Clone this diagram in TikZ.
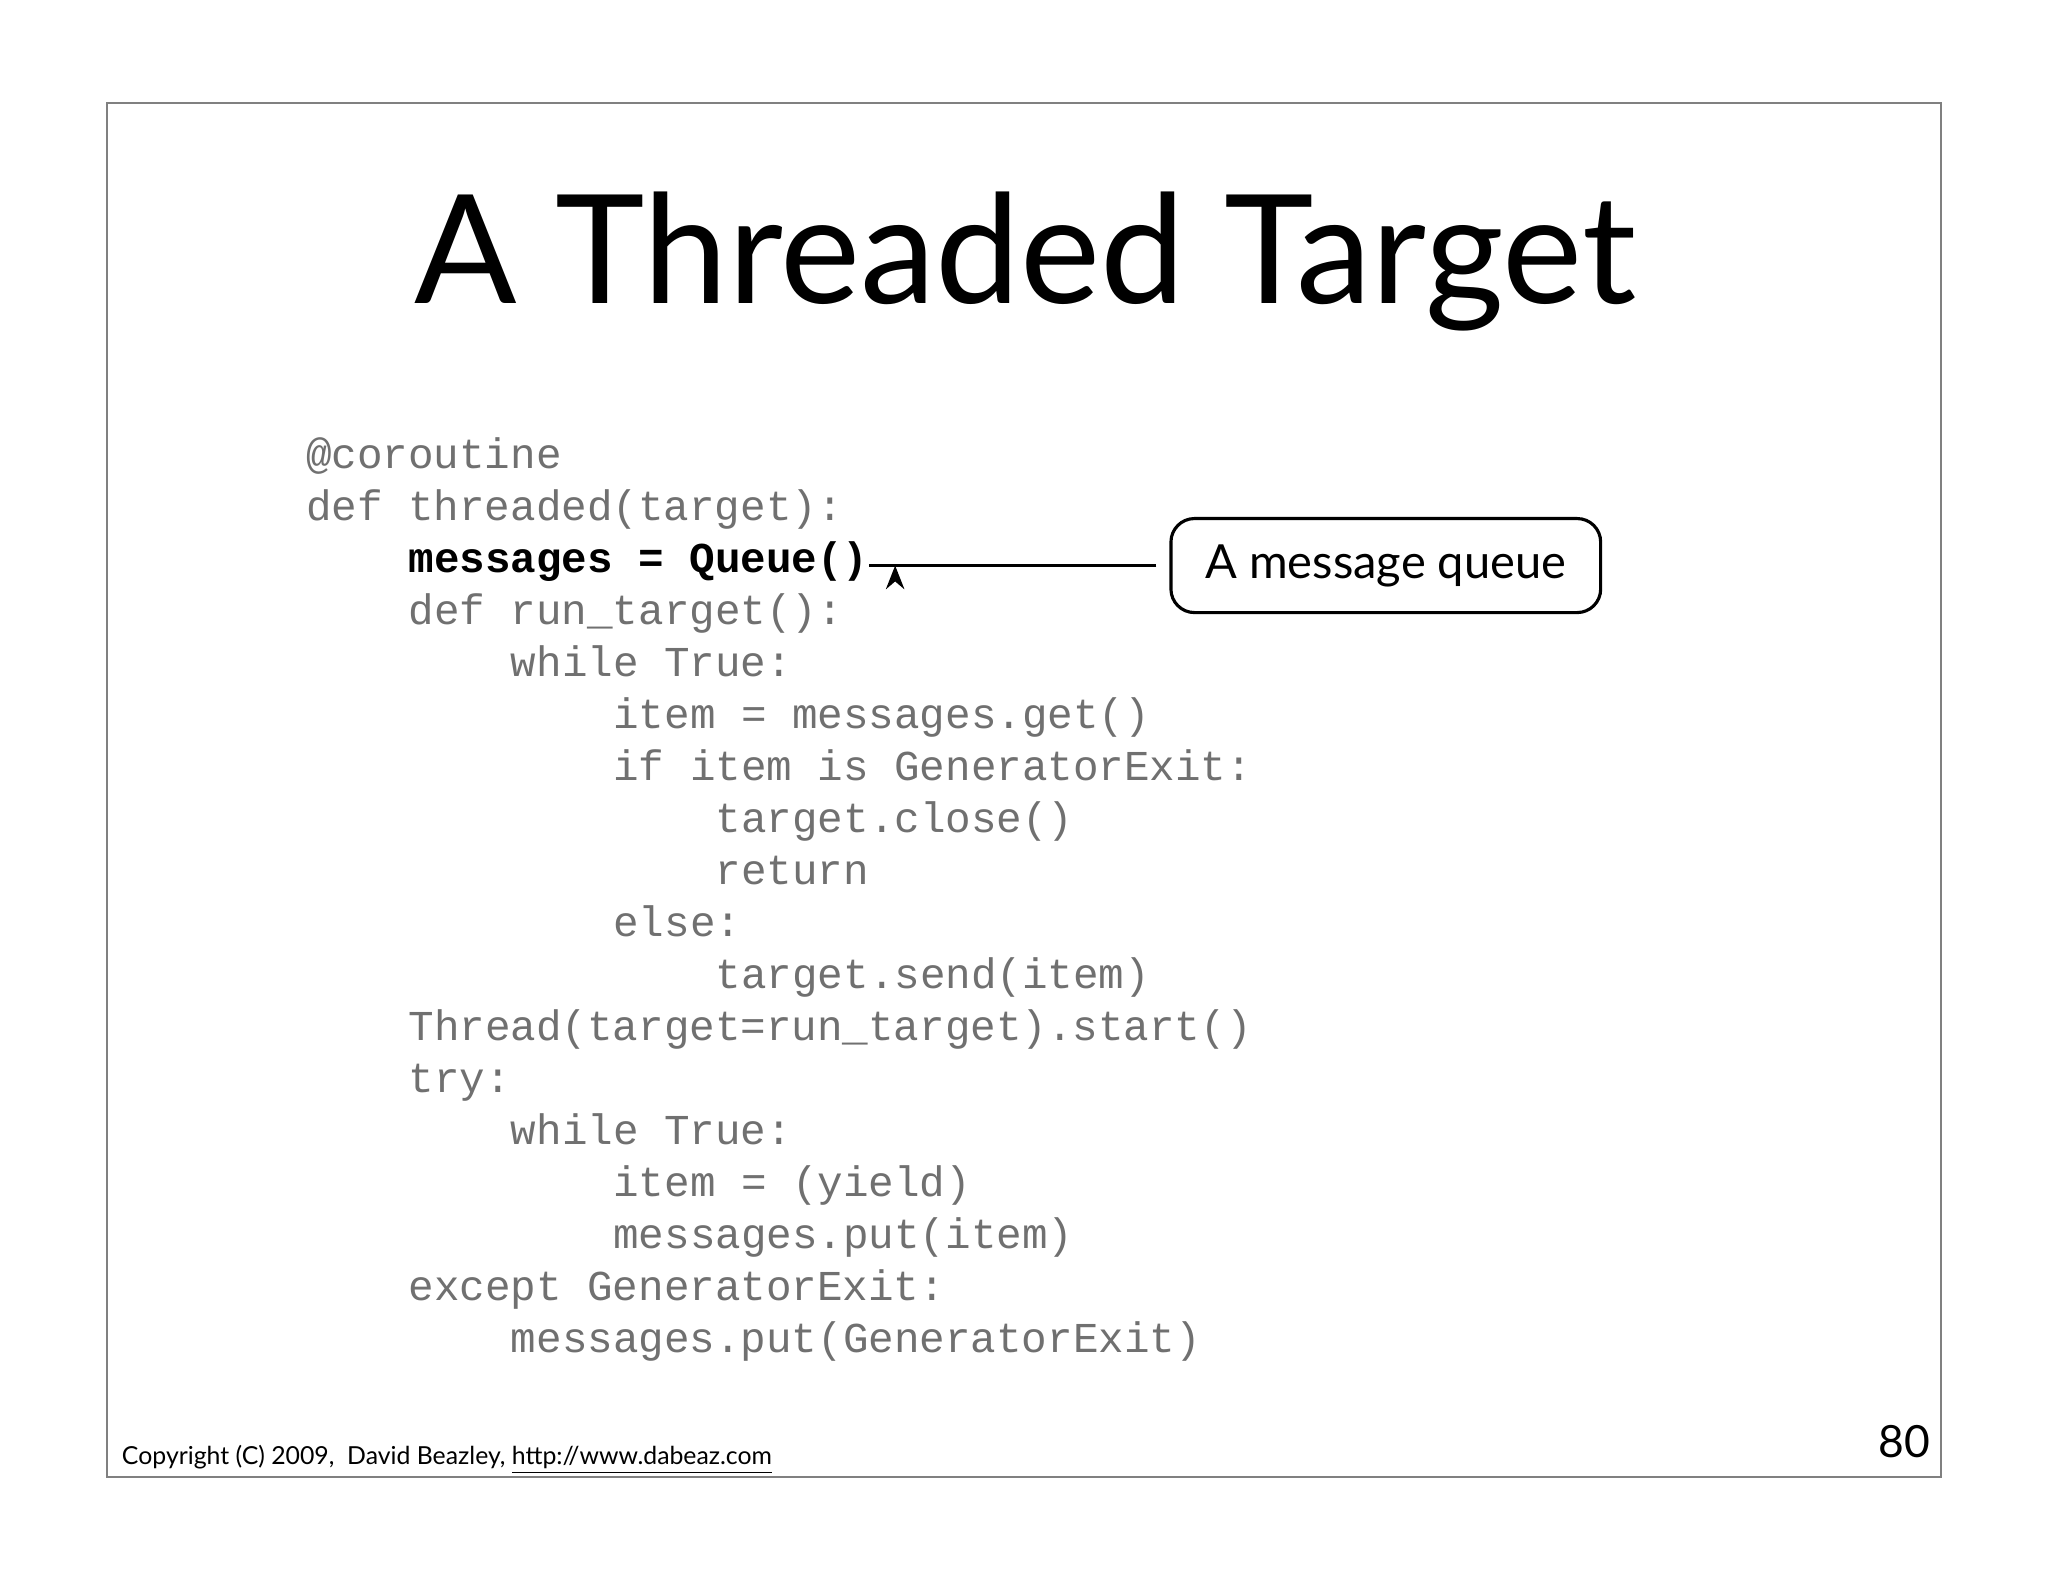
\documentclass[tikz,border=0pt]{standalone}
\usepackage{fontspec}
\setmainfont{Lato}
\newfontfamily\codefont{Liberation Mono}
\usetikzlibrary{arrows.meta}
\definecolor{codegray}{HTML}{707070}
\tikzset{codeline/.style={anchor=base west,inner sep=0pt,font=\codefont\fontsize{16.3}{18}\selectfont,text=codegray},
callout/.style={draw,line width=1.2pt,rounded corners=9pt,minimum width=164.5pt,minimum height=36pt,font=\fontsize{18}{20}\selectfont}}
\begin{document}
\begin{tikzpicture}[x=0.5pt,y=-0.5pt]
\useasboundingbox (0,0) rectangle (1568,1211);
\fill[white] (0,0) rectangle (1568,1211);
\draw[line width=0.6pt,gray] (82,79) rectangle (1486,1131);
\node[font=\fontsize{58}{60}\selectfont,anchor=base] (title) at (785,232) {A Threaded Target};
\foreach \t/\ind/\n [count=\i from 0] in {
{@coroutine}/0/l0,
{def threaded(target):}/0/l1,
{}/4/l2,
{def run\_target():}/4/l3,
{while True:}/8/l4,
{item = messages.get()}/12/l5,
{if item is GeneratorExit:}/12/l6,
{target.close()}/16/l7,
{return}/16/l8,
{else:}/12/l9,
{target.send(item)}/16/l10,
{Thread(target=run\_target).start()}/4/l11,
{try:}/4/l12,
{while True:}/8/l13,
{item = (yield)}/12/l14,
{messages.put(item)}/12/l15,
{except GeneratorExit:}/4/l16,
{messages.put(GeneratorExit)}/8/l17}
{\node[codeline] (\n) at ({234+19.6*\ind},{359+39.8*\i}) {\t};}
\node[codeline,text=black,font=\codefont\bfseries\fontsize{16.3}{18}\selectfont] (bold) at (312.4,438.6) {messages = Queue()};
\node[callout] (box) at (1061,433) {A message queue};
\draw[-{Stealth[length=9pt,width=7pt]},line width=1.3pt] (box.west) ++(-10,0) coordinate (s) -- (bold.east |- s) ++(20,0) coordinate (e);
\node[anchor=base west,font=\fontsize{9.5}{11}\selectfont,inner sep=0pt] (copy) at (93,1121) {Copyright (C) 2009,\ \ David Beazley, \underline{http://www.dabeaz.com}};
\node[anchor=base east,font=\fontsize{17}{19}\selectfont,inner sep=0pt] (num) at (1478,1116) {80};
\end{tikzpicture}
\end{document}
